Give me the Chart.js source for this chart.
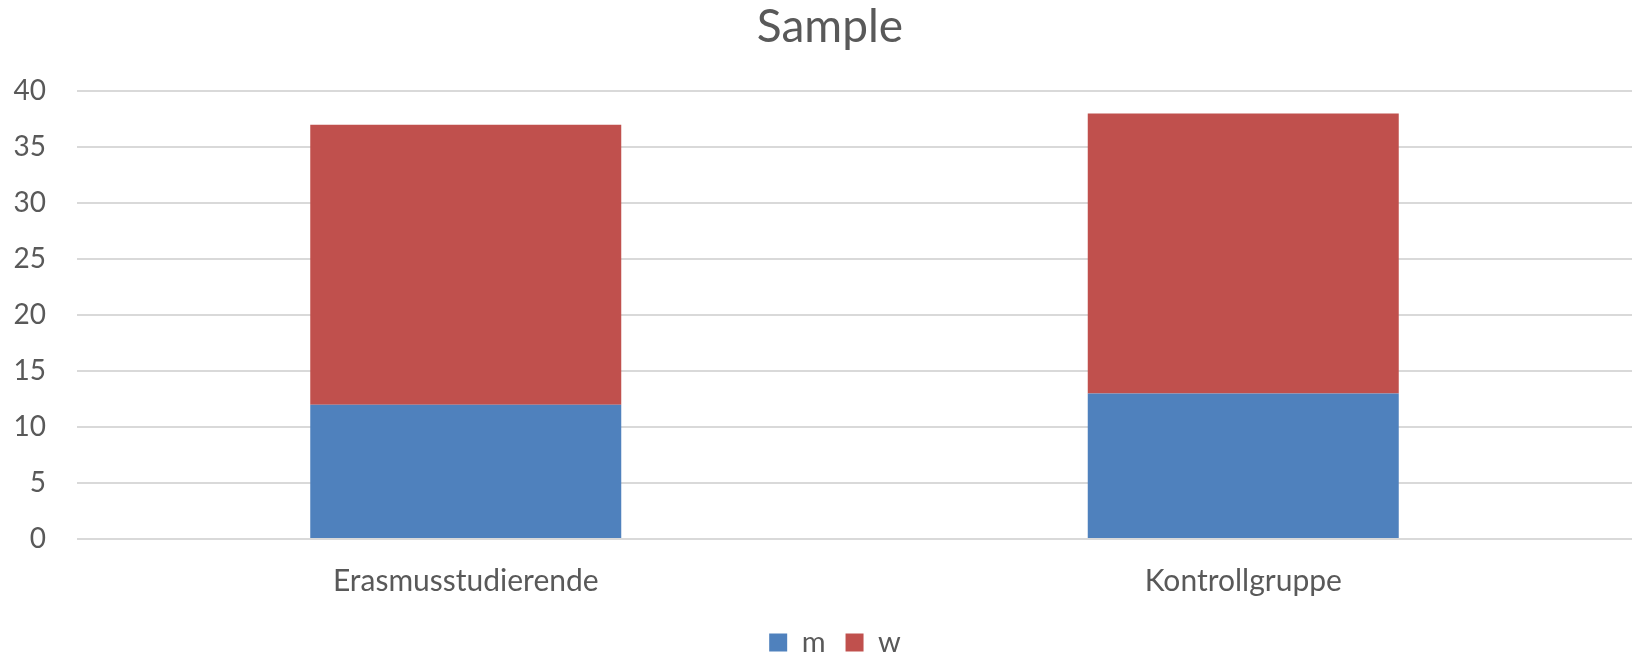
<!DOCTYPE html>
<html>
<head>
<meta charset="utf-8">
<script src="https://cdn.jsdelivr.net/npm/chart.js@4"></script>
<style>
  html, body { margin: 0; padding: 0; background: #fff; }
  #wrap { width: 1637px; height: 656px; }
</style>
</head>
<body>
<div id="wrap"><canvas id="sampleChart" width="1637" height="656"></canvas></div>
<script>
// Sample chart data
const groups = ['Erasmusstudierende', 'Kontrollgruppe'];
const male = [12, 13];
const female = [25, 25];
const yTicks = [0, 5, 10, 15, 20, 25, 30, 35, 40];

const textColor = '#595959';
const fontFamily = 'Lato, "Open Sans", sans-serif';

// title and legend sit a bit right of the canvas centre in the original
const nudgeBlocks = {
    id: 'nudgeBlocks',
    afterLayout(chart) {
        if (chart.titleBlock) {
            chart.titleBlock.left += 10;
            chart.titleBlock.right += 10;
        }
        if (chart.legend) {
            chart.legend.left += 15;
            chart.legend.right += 15;
        }
    }
};

const sampleCtx = document.getElementById('sampleChart').getContext('2d');
new Chart(sampleCtx, {
    type: 'bar',
    data: {
        labels: groups,
        datasets: [{
            label: 'm',
            data: male,
            backgroundColor: '#4F81BD',
            categoryPercentage: 0.8,
            barPercentage: 0.5
        }, {
            label: 'w',
            data: female,
            backgroundColor: '#C0504D',
            categoryPercentage: 0.8,
            barPercentage: 0.5
        }]
    },
    options: {
        responsive: false,
        animation: false,
        layout: {
            padding: { left: 8, right: 5, top: 0, bottom: -11 }
        },
        plugins: {
            title: {
                display: true,
                text: 'Sample',
                color: textColor,
                font: { family: fontFamily, size: 46, weight: 'normal' },
                padding: { top: 0, bottom: 36 }
            },
            legend: {
                position: 'bottom',
                labels: {
                    color: textColor,
                    font: { family: fontFamily, size: 29 },
                    boxWidth: 18,
                    boxHeight: 18,
                    padding: 20
                }
            },
            tooltip: { enabled: false }
        },
        scales: {
            x: {
                stacked: true,
                grid: { display: false, drawTicks: false },
                border: { display: false },
                ticks: {
                    color: textColor,
                    font: { family: fontFamily, size: 30 },
                    padding: 24
                },
                afterFit: function(scale) { scale.height = 69; }
            },
            y: {
                stacked: true,
                min: yTicks[0],
                max: yTicks[yTicks.length - 1],
                afterBuildTicks: function(scale) {
                    scale.ticks = yTicks.map(v => ({ value: v }));
                },
                grid: { color: '#d9d9d9', lineWidth: 2, drawTicks: false },
                border: { display: false },
                ticks: {
                    color: textColor,
                    font: { family: fontFamily, size: 28 },
                    padding: 31
                },
                afterFit: function(scale) { scale.width = 69; }
            }
        }
    },
    plugins: [nudgeBlocks]
});
</script>
</body>
</html>
